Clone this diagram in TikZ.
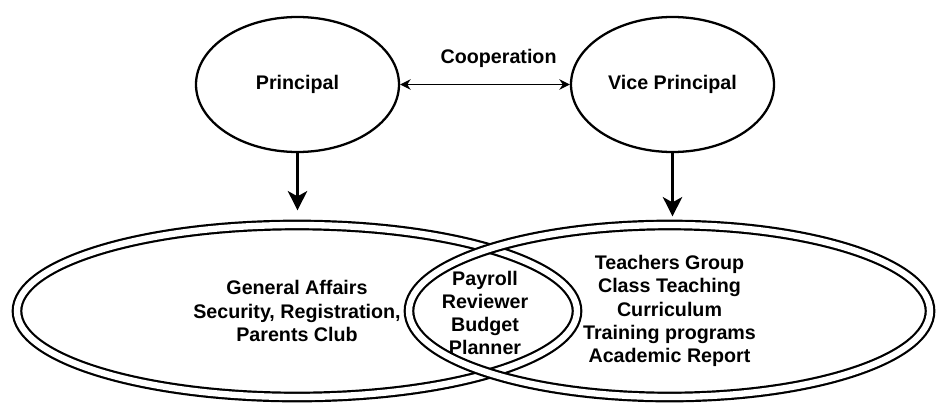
\documentclass[tikz,border=0pt]{standalone}
\usepackage{fontspec}
\setmainfont{Liberation Sans}
\usetikzlibrary{shapes.geometric}
\usetikzlibrary{arrows.meta}
\tikzstyle{role}=[draw, ellipse, line width=1.3pt, minimum width=4.06cm, minimum height=2.7cm, inner sep=0]
\tikzstyle{unit}=[draw, ellipse, double, line width=1.25pt, double distance=3.6pt, minimum height=3.44cm, inner sep=0, align=center]
\tikzstyle{shared}=[align=center, inner sep=0]
\tikzstyle{reports}=[line width=1.4pt, -{Stealth[length=11pt, width=11pt, inset=3pt]}]
\tikzstyle{cooperates}=[line width=0.7pt, {Stealth[length=6pt, width=6pt]}-{Stealth[length=6pt, width=6pt]}]

\begin{document}
\begin{tikzpicture}[every node/.style={font=\fontsize{11.2}{13.2}\selectfont\bfseries}]
      \useasboundingbox (0, 0) rectangle (18.74, 8.1);

      \node[role] (principal) at (5.95, 6.41) {Principal};
      \node[role] (vice) at (13.45, 6.41) {Vice Principal};

      \node[unit, minimum width=11.2cm] (general) at (5.94, 1.88)
        {General Affairs\\Security, Registration,\\Parents Club};
      \node[unit, minimum width=10.42cm] (teaching) at (13.39, 1.88)
        {Teachers Group\\Class Teaching\\Curriculum\\Training programs\\Academic Report};
      \node[shared] (budget) at (9.70, 1.84) {Payroll\\Reviewer\\Budget\\Planner};

      \draw[cooperates] (principal) to node[pos=0.58, above=6pt] (coop) {Cooperation} (vice);
      \draw[reports, shorten >=0.27cm] (principal) to (principal.south |- general.north);
      \draw[reports, shorten >=0.15cm] (vice) to (vice.south |- teaching.north);
    \end{tikzpicture}
\end{document}
